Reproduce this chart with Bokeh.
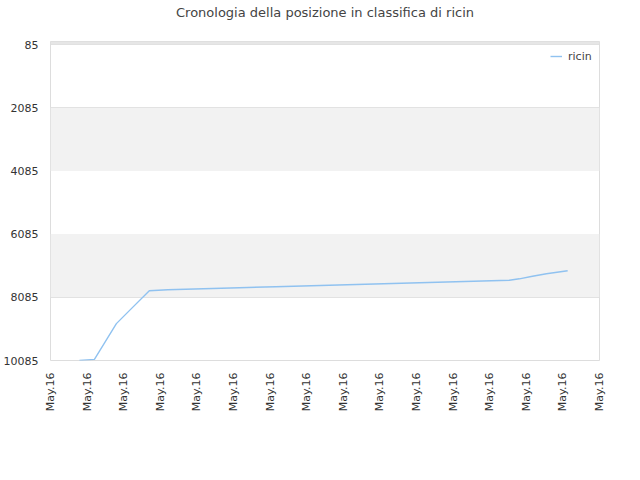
from bokeh.plotting import figure
from bokeh.models import Range1d, FixedTicker, BoxAnnotation, Legend, LegendItem, Title
from bokeh.embed import file_html
from bokeh.resources import INLINE
import math

# data
tick_pos = list(range(16))
tick_labels = ["May.16"] * 16
y_ticks = [85, 2085, 4085, 6085, 8085, 10085]

x_idx = [0.79, 1.20, 1.80, 2.10, 2.70, 3.20, 4.18, 5.16, 6.15, 7.13, 8.11,
         9.10, 10.08, 11.07, 12.05, 12.54, 12.81, 13.17, 13.55, 14.13]
rank = [10085, 10050, 8918, 8570, 7877, 7845, 7813, 7782, 7750, 7719, 7687,
        7656, 7624, 7592, 7561, 7545, 7500, 7420, 7340, 7246]

p = figure(width=624, height=460, output_backend="svg", toolbar_location=None,
           x_range=Range1d(0, 15), y_range=Range1d(10085, -10),
           min_border_left=43, min_border_right=25, min_border_top=0,
           min_border_bottom=100)
p.background_fill_color = "white"
p.border_fill_color = "white"
p.outline_line_color = "#dddddd"

# alternating bands
for i in range(1, len(y_ticks) - 1, 2):
    p.add_layout(BoxAnnotation(top=y_ticks[i], bottom=y_ticks[i + 1],
                               fill_color="#f2f2f2", fill_alpha=1, line_alpha=0,
                               level="underlay"))
p.add_layout(BoxAnnotation(top=-10, bottom=y_ticks[0], fill_color="#e6e6e6",
                           fill_alpha=1, line_alpha=0, level="underlay"))

r = p.line(x_idx, rank, line_color="#90c2f0", line_width=1.4)

p.xgrid.visible = False
p.ygrid.ticker = FixedTicker(ticks=y_ticks)
p.ygrid.grid_line_color = "#dddddd"

p.xaxis.ticker = FixedTicker(ticks=tick_pos)
p.xaxis.major_label_overrides = {t: l for t, l in zip(tick_pos, tick_labels)}
p.xaxis.major_label_orientation = math.pi / 2
p.yaxis.ticker = FixedTicker(ticks=y_ticks)
for ax in (p.xaxis[0], p.yaxis[0]):
    ax.axis_line_color = None
    ax.major_tick_line_color = None
    ax.minor_tick_line_color = None
    ax.major_label_text_font = "DejaVu Sans"
    ax.major_label_text_font_size = "11px"
    ax.major_label_text_color = "#333333"
    ax.major_label_standoff = 6

# spacer between title and plot area
p.add_layout(Title(text=" ", text_font_size="13px", standoff=3), "above")
p.add_layout(Title(text="Cronologia della posizione in classifica di ricin",
                   align="center", text_font="DejaVu Sans", text_font_size="13px",
                   text_font_style="normal", text_color="#444444",
                   standoff=4), "above")

legend = Legend(items=[LegendItem(label="ricin", renderers=[r])],
                location=(500, 294),
                background_fill_alpha=0, border_line_alpha=0,
                label_text_font="DejaVu Sans", label_text_font_size="11px",
                glyph_width=12, label_standoff=6, padding=0, margin=0)
p.add_layout(legend)

open("out.html", "w").write(file_html(p, INLINE))
